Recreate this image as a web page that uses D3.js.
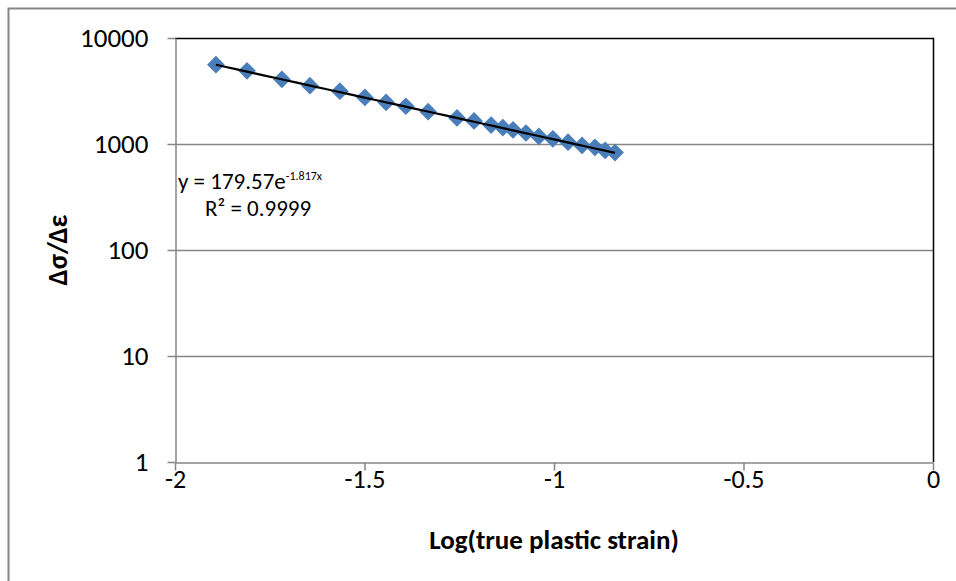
<!DOCTYPE html>
<html>
<head>
<meta charset="utf-8">
<script src="https://cdn.jsdelivr.net/npm/d3@7"></script>
<style>
  html, body { margin: 0; padding: 0; background: #fff; }
  svg { display: block; }
  text { font-family: Carlito, Calibri, Lato, "Open Sans", sans-serif; fill: #000; }
</style>
</head>
<body>
<svg id="chart" width="956" height="581"></svg>
<script>
// Log(true plastic strain) for each measured point
const logStrain = [-1.892, -1.810, -1.718, -1.644, -1.565, -1.499, -1.443, -1.391, -1.332, -1.256,
                   -1.211, -1.166, -1.135, -1.108, -1.074, -1.040, -1.003, -0.963, -0.926, -0.892,
                   -0.865, -0.839];
// Hardening rate Δσ/Δε at each point
const hardening = [5600, 4900, 4080, 3550, 3150, 2750, 2470, 2270, 2020, 1760,
                   1650, 1510, 1430, 1360, 1270, 1180, 1120, 1040, 970, 930,
                   870, 830];
const xTicks = [-2, -1.5, -1, -0.5, 0];
const yTicks = [1, 10, 100, 1000, 10000];
// Exponential trendline coefficients: y = a·e^(b·x)
const fitA = 179.57;
const fitB = -1.817;
const fitR2 = "0.9999";

const svg = d3.select("#chart");
const plot = { left: 175, right: 933, top: 38, bottom: 462 };

const x = d3.scaleLinear().domain([-2, 0]).range([plot.left, plot.right]);
const y = d3.scaleLog().domain([1, 10000]).range([plot.bottom, plot.top]);

// chart area frame
svg.append("rect")
  .attr("x", 8.5).attr("y", 8.5).attr("width", 970).attr("height", 600)
  .attr("fill", "#fff").attr("stroke", "#868686").attr("stroke-width", 2);

// horizontal gridlines
svg.append("g").selectAll("line").data(yTicks.slice(1, -1)).join("line")
  .attr("x1", plot.left).attr("x2", plot.right)
  .attr("y1", d => Math.round(y(d)) + 0.5).attr("y2", d => Math.round(y(d)) + 0.5)
  .attr("stroke", "#868686").attr("stroke-width", 1.5);

// plot area border (top and right)
svg.append("path")
  .attr("d", `M${plot.left},${plot.top + 0.5}H${plot.right + 0.5}V${plot.bottom}`)
  .attr("fill", "none").attr("stroke", "#000").attr("stroke-width", 1.5);

// y axis
const yAxis = d3.axisLeft(y).tickValues(yTicks).tickFormat(d3.format("d"))
  .tickSizeInner(8).tickSizeOuter(0).tickPadding(19);
const gy = svg.append("g").attr("transform", `translate(${plot.left + 0.5},0)`).call(yAxis);
gy.select(".domain").attr("stroke", "#868686").attr("stroke-width", 1.5);
gy.selectAll(".tick line").attr("stroke", "#868686").attr("stroke-width", 1.5);
gy.selectAll(".tick text").attr("font-size", 27).attr("font-family", null);

// x axis
const xAxis = d3.axisBottom(x).tickValues(xTicks).tickFormat(d => String(d))
  .tickSizeInner(8).tickSizeOuter(0).tickPadding(-1);
const gx = svg.append("g").attr("transform", `translate(0,${plot.bottom + 0.5})`).call(xAxis);
gx.select(".domain").attr("stroke", "#868686").attr("stroke-width", 1.5);
gx.selectAll(".tick line").attr("stroke", "#868686").attr("stroke-width", 1.5);
gx.selectAll(".tick text").attr("font-size", 26).attr("font-family", null);

// axis titles
svg.append("text")
  .attr("x", (plot.left + plot.right) / 2).attr("y", 549)
  .attr("text-anchor", "middle").attr("font-size", 27).attr("font-weight", "bold")
  .text("Log(true plastic strain)");
svg.append("text")
  .attr("transform", "translate(67,250) rotate(-90)")
  .attr("text-anchor", "middle").attr("font-size", 28).attr("font-weight", "bold")
  .text("Δσ/Δε");

// data markers (diamonds)
const points = logStrain.map((v, i) => ({ x: v, y: hardening[i] }));
const diamond = d3.symbol().type(d3.symbolDiamond2).size(200);
svg.append("g").selectAll("path").data(points).join("path")
  .attr("transform", d => `translate(${x(d.x)},${y(d.y)})`)
  .attr("d", diamond)
  .attr("fill", "#4a7ebb");

// exponential trendline across the data range
const xMin = d3.min(logStrain), xMax = d3.max(logStrain);
const fitPts = d3.range(0, 41).map(i => {
  const xv = xMin + (xMax - xMin) * i / 40;
  return [xv, fitA * Math.exp(fitB * xv)];
});
svg.append("path")
  .datum(fitPts)
  .attr("d", d3.line().x(d => x(d[0])).y(d => y(d[1])))
  .attr("fill", "none").attr("stroke", "#000").attr("stroke-width", 2.2);

// trendline equation and R²
const eq = svg.append("text").attr("x", 178).attr("y", 189).attr("font-size", 23);
eq.append("tspan").text(`y = ${fitA}e`);
eq.append("tspan").attr("dy", -9).attr("font-size", 12).text(`${fitB}x`);
svg.append("text").attr("x", 205).attr("y", 216).attr("font-size", 23)
  .text(`R² = ${fitR2}`);
</script>
</body>
</html>
